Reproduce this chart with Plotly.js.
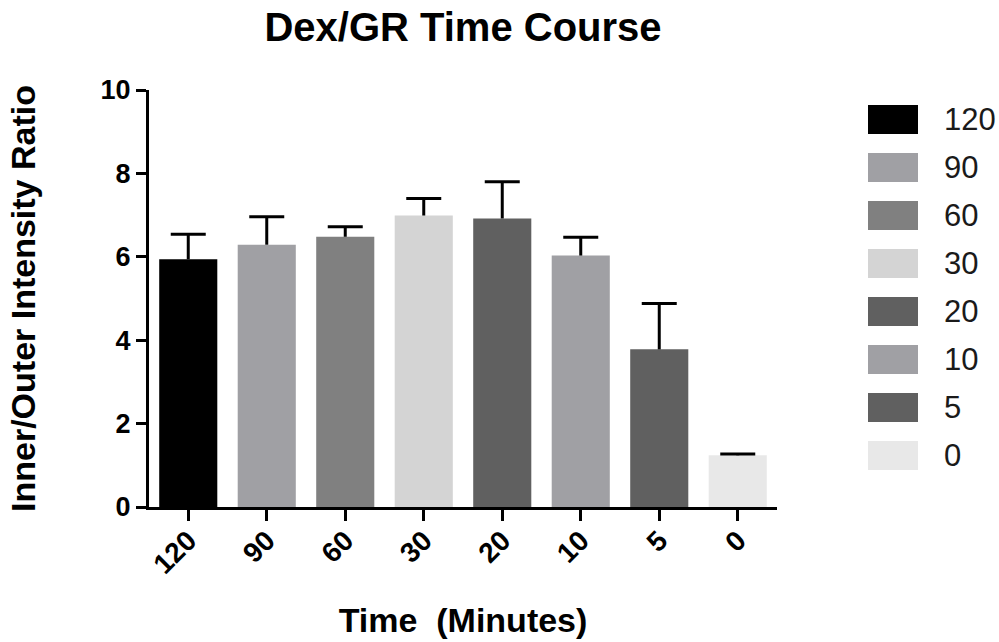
<!DOCTYPE html>
<html>
<head>
<meta charset="utf-8">
<script src="https://cdn.plot.ly/plotly-3.0.1.min.js"></script>
<style>html,body{margin:0;padding:0;background:#fff;}#chart{width:999px;height:642px;}</style>
</head>
<body>
<div id="chart"></div>
<script>
var categories = ['120', '90', '60', '30', '20', '10', '5', '0'];
var ratioMean = [5.94, 6.29, 6.48, 6.99, 6.92, 6.03, 3.78, 1.24];
var ratioError = [0.60, 0.67, 0.24, 0.41, 0.88, 0.44, 1.10, 0.03];
var barColors = ['#000000', '#a0a0a4', '#808080', '#d4d4d4', '#606060', '#a0a0a4', '#606060', '#e8e8e8'];
var yTickValues = [0, 2, 4, 6, 8, 10];

var W = 999, H = 642;
var M = {l: 149, r: 222, t: 90, b: 135};
var plotW = W - M.l - M.r, plotH = H - M.t - M.b;
function px2x(px) { return (px - M.l) / plotW; }
function px2y(py) { return (H - M.b - py) / plotH; }

var FONT = 'Liberation Sans, Arial, Helvetica, sans-serif';

var bars = {
  type: 'bar',
  x: categories,
  y: ratioMean,
  marker: {color: barColors, line: {width: 0}},
  width: 0.74,
  error_y: {
    type: 'data',
    symmetric: false,
    array: ratioError,
    arrayminus: ratioError.map(function () { return 0; }),
    color: '#000000',
    thickness: 3,
    width: 0
  },
  showlegend: false,
  hoverinfo: 'x+y'
};

var caps = {
  type: 'scatter',
  mode: 'markers',
  x: categories,
  y: ratioMean.map(function (v, i) { return v + ratioError[i]; }),
  marker: {symbol: 'line-ew-open', size: 25, color: '#000000', line: {width: 3, color: '#000000'}},
  showlegend: false,
  hoverinfo: 'skip',
  cliponaxis: false
};

var shapes = [], annotations = [];
var swTop = 105, swStep = 48, swH = 29, swX0 = 868, swX1 = 918, txtX = 942;
categories.forEach(function (c, i) {
  var top = swTop + swStep * i;
  shapes.push({
    type: 'rect', xref: 'paper', yref: 'paper',
    x0: px2x(swX0), x1: px2x(swX1),
    y0: px2y(top + swH), y1: px2y(top),
    fillcolor: barColors[i], line: {width: 0}
  });
  annotations.push({
    xref: 'paper', yref: 'paper',
    x: px2x(txtX), y: px2y(top + swH / 2),
    xanchor: 'left', yanchor: 'middle',
    text: c, showarrow: false,
    font: {family: FONT, size: 31, color: '#1a1a1a'}
  });
});

var layout = {
  width: W, height: H,
  margin: M,
  paper_bgcolor: '#ffffff', plot_bgcolor: '#ffffff',
  showlegend: false,
  title: {
    text: 'Dex/GR Time Course',
    font: {family: FONT, size: 40, weight: 'bold', color: '#000'},
    x: 0.5, xref: 'paper', xanchor: 'center',
    y: 1 - 27 / H, yref: 'container', yanchor: 'middle'
  },
  xaxis: {
    type: 'category',
    range: [-0.5, 7.5],
    showline: true, linecolor: '#000', linewidth: 3,
    ticks: 'outside', ticklen: 11, tickwidth: 3, tickcolor: '#000',
    tickangle: -45,
    ticklabelstandoff: -8,
    tickfont: {family: FONT, size: 28, weight: 'bold', color: '#000'},
    showgrid: false, zeroline: false,
    title: {
      text: 'Time\u00a0\u00a0(Minutes)',
      font: {family: FONT, size: 34, weight: 'bold', color: '#000'},
      standoff: 30
    },
    automargin: false
  },
  yaxis: {
    range: [0, 10],
    tickvals: yTickValues,
    ticktext: yTickValues.map(String),
    showline: true, linecolor: '#000', linewidth: 3,
    ticks: 'outside', ticklen: 10, tickwidth: 3, tickcolor: '#000',
    tickfont: {family: FONT, size: 27, weight: 'bold', color: '#000'},
    showgrid: false, zeroline: false,
    title: {
      text: 'Inner/Outer Intensity Ratio',
      font: {family: FONT, size: 34, weight: 'bold', color: '#000'},
      standoff: 55
    },
    automargin: false
  },
  shapes: shapes,
  annotations: annotations
};

Plotly.newPlot('chart', [bars, caps], layout, {displayModeBar: false, staticPlot: true});
</script>
</body>
</html>
